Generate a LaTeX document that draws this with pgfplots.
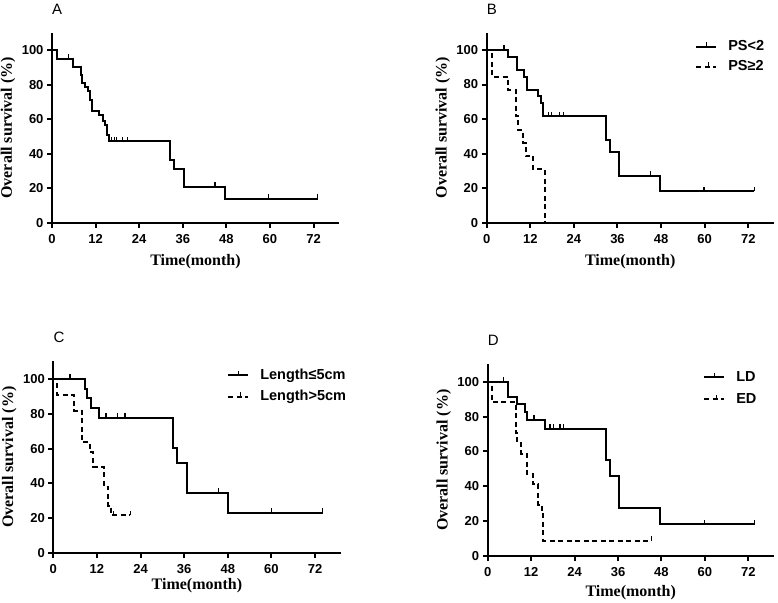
\documentclass[border=0pt]{standalone}
\usepackage{fontspec}
\setmainfont{Liberation Serif}
\setsansfont{Liberation Sans}
\usepackage{pgfplots}
\pgfplotsset{compat=1.18}
\pgfdeclareplotmark{cens}{\pgfpathmoveto{\pgfpointorigin}\pgfpathlineto{\pgfpoint{0pt}{4.5pt}}\pgfusepathqstroke}
\newcommand{\lblfont}{\bfseries\fontsize{16}{18}\selectfont}
\newcommand{\panel}[1]{\node[anchor=base west, inner sep=0pt, font=\sffamily\fontsize{15}{15}\selectfont, yshift=18.5pt] at (rel axis cs:0,1) {#1};}
\pgfplotsset{
 km/.style={
  scale only axis, xmin=0, xmax=79, ymin=0, ymax=110,
  axis x line=bottom, axis y line=left,
  axis line style={-, line width=2pt},
  x axis line style={-}, y axis line style={-},
  xtick={0,12,24,36,48,60,72}, ytick={0,20,40,60,80,100},
  tick align=outside, major tick length=5pt,
  every tick/.style={line width=2pt, black},
  tick label style={font=\sffamily\bfseries\fontsize{13}{14}\selectfont},
  xticklabel style={yshift=-3pt},
  /pgf/number format/assume math mode=true,
  xlabel={\lblfont Time(month)}, ylabel={\lblfont Overall survival (\%)},
  every axis x label/.style={at={(axis description cs:0.5,0)}, anchor=center, yshift=-38.5pt},
  every axis y label/.style={at={(axis description cs:0,0.5)}, anchor=center, rotate=90, yshift=44pt},
  clip=false,
  legend cell align=left,
  legend style={draw=none, fill=none, inner sep=0pt, anchor=west,
    font=\sffamily\bfseries\fontsize{14.5}{16}\selectfont,
    nodes={inner sep=0pt, text height=11pt, text depth=3pt},
    /tikz/every odd column/.append style={column sep=11pt}},
 },
 solidc/.style={black, line width=2pt, const plot, mark=none,
   legend image code/.code={\draw[black, line width=2pt] (0pt,0pt) -- (20pt,0pt); \draw[black, line width=1.3pt] (10pt,0pt) -- (10pt,4.5pt);}},
 dashc/.style={black, line width=2pt, const plot, mark=none, dash pattern=on 5pt off 3.5pt,
   legend image code/.code={\draw[black, line width=2pt, dash pattern=on 5pt off 3.5pt] (0pt,0pt) -- (20pt,0pt); \draw[black, line width=1.3pt] (12pt,0pt) -- (12pt,4.5pt);}},
 censc/.style={black, only marks, mark=cens, mark options={line width=1.3pt, solid}, forget plot},
}
\begin{document}
\begin{tikzpicture}
\useasboundingbox (0,0) rectangle (778pt,602pt);
% ---------------- A
\begin{axis}[km, at={(52pt,379.3pt)}, anchor=south west, width=287pt, height=189.5pt]
\addplot[solidc] coordinates {(0,100) (1.3,95.2) (5.9,90.5) (8.0,85.7) (8.3,81.0) (9.0,78.6) (10.0,76.2) (10.5,71.4) (11.0,64.9) (12.8,62.3) (14.1,59.0) (14.6,56.6) (15.2,50.9) (15.8,47.2) (32.5,36.5) (33.6,31.3) (36.2,21.0) (47.5,13.9) (73.1,13.9)};
\addplot[censc] coordinates {(4.5,95.2) (16.4,47.2) (17.2,47.2) (17.8,47.2) (19.4,47.2) (20.8,47.2) (44.9,21.0) (59.6,13.9) (73.1,13.9)};
\panel{A}
\end{axis}
% ---------------- B
\begin{axis}[km, at={(486.7pt,379.3pt)}, anchor=south west, width=287pt, height=190pt,
  legend style={at={(axis description cs:0.726,0.874)}, row sep=6pt}]
\addplot[solidc] coordinates {(0,100) (5.9,96.2) (8.4,88.5) (10.4,84.6) (11.2,76.9) (14.2,73.1) (14.9,69.2) (15.4,61.5) (32.8,47.8) (33.9,41.0) (36.5,27.3) (47.7,18.2) (73.7,18.2)};
\addlegendentry{PS<2}
\addplot[dashc] coordinates {(0,100) (1.4,84.6) (5.9,76.9) (8.0,61.5) (8.7,53.8) (10.0,46.2) (10.7,38.5) (12.8,30.8) (16.0,0)};
\addlegendentry{PS≥2}
\addplot[censc] coordinates {(4.8,100) (17.0,61.5) (17.9,61.5) (20.0,61.5) (21.1,61.5) (45.1,27.3) (59.8,18.2) (73.7,18.2)};
\panel{B}
\end{axis}
% ---------------- C
\begin{axis}[km, at={(53.3pt,48.7pt)}, anchor=south west, width=287.2pt, height=192pt,
  every axis x label/.append style={yshift=6.5pt},
  legend style={at={(axis description cs:0.605,0.872)}, row sep=7.7pt}]
\addplot[solidc] coordinates {(0,100) (8.7,94.4) (9.4,88.9) (10.3,83.3) (12.7,77.8) (32.8,60.5) (33.9,51.9) (36.9,34.6) (48.0,23.1) (74.1,23.1)};
\addlegendentry{Length≤5cm}
\addplot[dashc] coordinates {(0,100) (1.1,90.9) (5.7,81.8) (7.8,63.6) (10.1,58.0) (11.0,49.5) (14.0,38.0) (15.1,27.3) (16.0,21.8) (21.2,21.8)};
\addlegendentry{Length>5cm}
\addplot[censc] coordinates {(4.6,100) (14.5,77.8) (17.6,77.8) (19.7,77.8) (45.4,34.6) (60.1,23.1) (74.1,23.1)};
\addplot[censc] coordinates {(16.6,21.8) (21.2,21.8)};
\panel{C}
\end{axis}
% ---------------- D
\begin{axis}[km, at={(487.7pt,46pt)}, anchor=south west, width=286pt, height=191.7pt,
  every axis x label/.append style={yshift=2pt},
  legend style={at={(axis description cs:0.753,0.876)}, row sep=8pt}]
\addplot[solidc] coordinates {(0,100) (5.7,91.4) (8.0,87.0) (10.3,82.6) (10.9,78.3) (15.8,73.1) (32.7,54.8) (33.8,45.7) (36.4,27.4) (47.6,18.3) (73.7,18.3)};
\addlegendentry{LD}
\addplot[dashc] coordinates {(0,100) (1.1,88.2) (7.7,70.6) (8.1,64.7) (9.3,58.8) (10.8,47.1) (12.4,41.2) (14.0,29.4) (14.9,25.0) (15.3,8.8) (45.3,8.8)};
\addlegendentry{ED}
\addplot[censc] coordinates {(4.3,100) (12.8,78.3) (17.2,73.1) (18.1,73.1) (20.0,73.1) (20.9,73.1) (59.8,18.3) (73.7,18.3)};
\addplot[censc] coordinates {(45.3,8.8)};
\panel{D}
\end{axis}
\end{tikzpicture}
\end{document}
